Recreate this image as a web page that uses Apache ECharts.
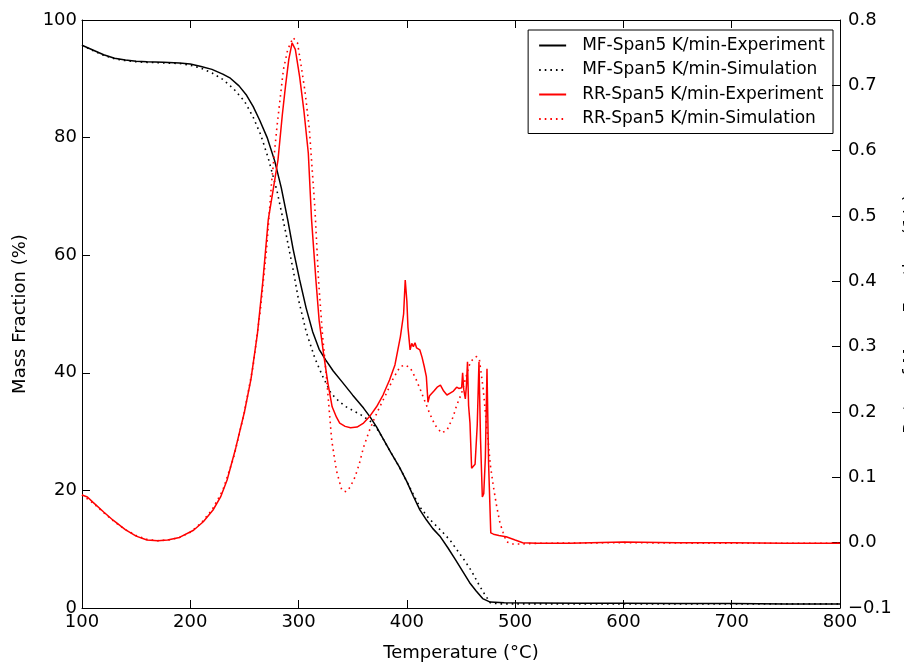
<!DOCTYPE html>
<html>
<head>
<meta charset="utf-8">
<script src="https://cdn.jsdelivr.net/npm/echarts@6/dist/echarts.min.js"></script>
<style>html,body{margin:0;padding:0;background:#fff;overflow:hidden;}#c{width:904px;height:664px;}</style>
</head>
<body>
<div id="c"></div>
<script>
// ---- data (temperature °C, value) ----
var seriesNames = [
  'MF-Span5 K/min-Experiment',
  'MF-Span5 K/min-Simulation',
  'RR-Span5 K/min-Experiment',
  'RR-Span5 K/min-Simulation'
];
var xTicks = [100, 800, 100];          // min, max, step
var mfTicks = [0, 100, 20];
var rateTicks = [-0.1, 0.8, 0.1];

var mfExp = [[100,95.7],[110,94.9],[120,94.1],[130,93.5],[140,93.2],[150,93.0],[160,92.9],[175,92.8],[190,92.7],[200,92.5],[210,92.1],[220,91.6],[230,90.8],[237,90.1],[245,88.8],[252,87.2],[258,85.3],[264,83],[271,80],[278,76],[284,71.5],[290,66],[295,61],[301,55.8],[307,51],[313,47],[319,44],[325,42.2],[332,40.3],[340,38.5],[350,36.2],[360,34],[366,32.5],[372,30.8],[378,28.8],[385,26.5],[393,24],[400,21.5],[406,19],[412,16.7],[418,15],[424,13.5],[431,12.1],[438,10.2],[445,8.2],[452,6.1],[458,4.3],[464,2.9],[470,1.6],[477,1.0],[490,0.9],[520,0.85],[560,0.8],[600,0.8],[650,0.75],[700,0.75],[750,0.7],[800,0.7]];

var mfSim = [[100,95.7],[110,94.8],[120,94.0],[130,93.4],[140,93.1],[150,92.9],[160,92.8],[175,92.7],[190,92.6],[200,92.3],[210,91.8],[220,91],[230,89.9],[240,88.3],[250,86.2],[258,83.5],[265,80.5],[272,76.5],[280,71],[288,64],[295,57.5],[300,52.4],[307,47],[315,42.5],[322,39.5],[330,36.5],[337,35.2],[343,34.3],[350,33.6],[358,32.8],[366,31.8],[372,30.6],[378,28.8],[385,26.5],[393,24],[400,21.5],[406,19.3],[412,17.2],[420,15.3],[427,14],[433,12.9],[440,11.5],[447,9.7],[454,7.9],[460,6.2],[467,3.8],[472,2.3],[477,0.9],[485,0.7],[500,0.7],[550,0.7],[600,0.7],[700,0.7],[800,0.7]];

var rrExp = [[100,0.073],[105,0.070],[110,0.062],[120,0.047],[129,0.034],[140,0.020],[150,0.010],[160,0.004],[170,0.003],[179,0.004],[190,0.008],[203,0.019],[212,0.032],[221,0.05],[228,0.07],[234,0.096],[242,0.145],[250,0.2],[256,0.25],[262,0.32],[267,0.40],[272,0.494],[277,0.545],[281,0.586],[285,0.655],[288,0.70],[291,0.74],[294,0.765],[297,0.755],[301,0.713],[305,0.66],[309,0.596],[312,0.494],[316,0.402],[319,0.34],[323,0.29],[327,0.245],[331,0.208],[335,0.192],[338,0.183],[343,0.178],[348,0.176],[354,0.177],[360,0.183],[366,0.194],[372,0.208],[378,0.226],[384,0.249],[389,0.272],[394,0.315],[397,0.35],[398.5,0.402],[400,0.37],[401,0.33],[403,0.295],[404.5,0.305],[406,0.300],[407.5,0.306],[409,0.298],[412,0.295],[414,0.284],[416,0.27],[418,0.254],[419.5,0.215],[421,0.225],[425,0.232],[428,0.238],[431,0.241],[434,0.232],[437,0.226],[440,0.229],[443,0.232],[446,0.238],[448,0.236],[450.6,0.237],[451.5,0.26],[452.5,0.235],[454,0.22],[455,0.24],[456,0.277],[457,0.21],[458.3,0.183],[459.8,0.114],[461,0.116],[463,0.12],[465,0.18],[466.6,0.277],[468,0.16],[469.7,0.07],[471,0.075],[472.5,0.13],[474,0.266],[475.5,0.12],[477.5,0.015],[480,0.013],[485,0.011],[491.7,0.009],[500,0.004],[507,0.0],[520,-0.001],[550,-0.001],[600,0.001],[650,0.0],[700,0.0],[750,-0.001],[800,-0.001]];

var rrSim = [[100,0.073],[110,0.061],[120,0.046],[130,0.032],[140,0.020],[150,0.011],[160,0.005],[170,0.003],[180,0.004],[190,0.008],[200,0.016],[210,0.03],[220,0.05],[230,0.08],[240,0.13],[250,0.2],[258,0.27],[265,0.36],[270.5,0.45],[275,0.55],[280,0.636],[286,0.724],[290,0.755],[295,0.773],[299,0.765],[302,0.734],[306,0.69],[310,0.632],[315,0.514],[318.5,0.40],[322,0.32],[326,0.249],[330.6,0.157],[335,0.11],[340,0.08],[344,0.078],[347.6,0.085],[352,0.1],[356,0.12],[360,0.146],[365,0.17],[370,0.19],[375,0.208],[381,0.228],[387,0.25],[393.6,0.269],[398,0.272],[403,0.268],[408,0.252],[412.5,0.234],[417,0.215],[421,0.198],[426,0.18],[432,0.168],[437,0.172],[442.6,0.192],[446,0.21],[450.6,0.229],[454,0.25],[458.3,0.275],[462,0.283],[464.5,0.285],[467,0.28],[470.6,0.234],[473,0.19],[475,0.157],[477,0.12],[480,0.085],[483,0.055],[486,0.03],[489,0.015],[492,0.0015],[497,-0.002],[504,-0.002],[520,-0.001],[600,0.0],[700,-0.001],[800,-0.001]];

// ---- chart ----
var FONT = 'DejaVu Sans';
var chart = echarts.init(document.getElementById('c'), null, {renderer: 'canvas'});
var lineAxis = {show: true, onZero: false, lineStyle: {color: '#000', width: 1}};
var tickIn = {show: true, inside: true, length: 8, lineStyle: {color: '#000', width: 1}};
var lbl = {color: '#000', fontSize: 18, fontFamily: FONT};
var nameStyle = {color: '#000', fontSize: 18, fontFamily: FONT};

function mk(name, data, color, dotted, yIdx) {
  return {
    name: name, type: 'line', data: data, yAxisIndex: yIdx, xAxisIndex: 0,
    symbol: 'none', showSymbol: false, smooth: false, animation: false,
    lineStyle: {color: color, width: dotted ? 1.6 : 1.5, type: dotted ? [1.6, 4] : 'solid'},
    itemStyle: {color: color}
  };
}

chart.setOption({
  backgroundColor: '#fff',
  animation: false,
  textStyle: {fontFamily: FONT},
  grid: {left: 82, right: 64, top: 20, bottom: 56, containLabel: false, outerBoundsMode: 'none'},
  legend: {
    orient: 'vertical', right: 71, top: 30,
    data: seriesNames,
    itemWidth: 27, itemHeight: 12, itemGap: 7.5,
    padding: [7, 8, 6, 10],
    borderColor: '#000', borderWidth: 1,
    itemStyle: {opacity: 0},
    textStyle: {color: '#000', fontSize: 17, fontFamily: FONT, padding: [0, 0, 0, 11]}
  },
  xAxis: [
    {type: 'value', position: 'bottom', min: xTicks[0], max: xTicks[1], interval: xTicks[2],
     name: 'Temperature (°C)', nameLocation: 'middle', nameGap: 36,
     nameTextStyle: nameStyle,
     axisLine: lineAxis, axisTick: tickIn, axisLabel: Object.assign({margin: 5}, lbl),
     splitLine: {show: false}},
    {type: 'value', position: 'top', min: xTicks[0], max: xTicks[1], interval: xTicks[2],
     axisLine: lineAxis, axisTick: tickIn, axisLabel: {show: false}, splitLine: {show: false}}
  ],
  yAxis: [
    {type: 'value', position: 'left', min: mfTicks[0], max: mfTicks[1], interval: mfTicks[2],
     name: 'Mass Fraction (%)', nameLocation: 'middle', nameGap: 53, nameRotate: 90,
     nameTextStyle: nameStyle,
     axisLine: lineAxis, axisTick: tickIn, axisLabel: Object.assign({margin: 5}, lbl),
     splitLine: {show: false}},
    {type: 'value', position: 'right', min: rateTicks[0], max: rateTicks[1], interval: rateTicks[2],
     name: 'Rate of Mass Fraction (1/s)', nameLocation: 'middle', nameGap: 52, nameRotate: 90,
     nameTextStyle: nameStyle,
     axisLine: lineAxis, axisTick: tickIn,
     axisLabel: Object.assign({margin: 8, formatter: function (v) {
       var s = Math.abs(v).toFixed(1);
       return v < -1e-9 ? '\u2212' + s : s;
     }}, lbl),
     splitLine: {show: false}}
  ],
  series: [
    mk(seriesNames[0], mfExp, '#000000', false, 0),
    mk(seriesNames[1], mfSim, '#000000', true, 0),
    mk(seriesNames[2], rrExp, '#ff0000', false, 1),
    mk(seriesNames[3], rrSim, '#ff0000', true, 1)
  ]
});
</script>
</body>
</html>
